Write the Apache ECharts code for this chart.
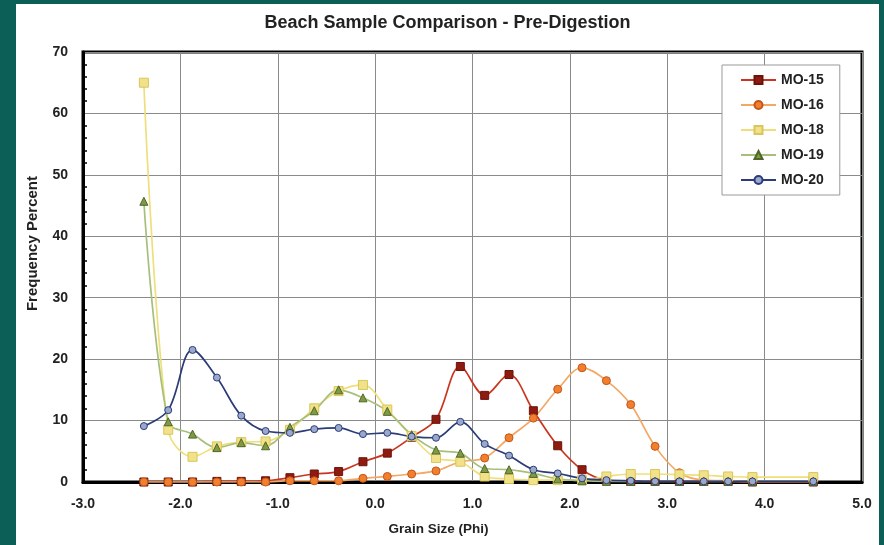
<!DOCTYPE html>
<html>
<head>
<meta charset="utf-8">
<script src="https://cdn.jsdelivr.net/npm/echarts@6/dist/echarts.min.js"></script>
<style>
  html, body { margin: 0; padding: 0; background: #0c5f57; }
  #chart { position: absolute; left: 16px; top: 4px; width: 863px; height: 541px; background: #fff; }
</style>
</head>
<body>
<div id="chart"></div>
<script>
// grain size class midpoints (phi)
var phi = [-2.375, -2.125, -1.875, -1.625, -1.375, -1.125, -0.875, -0.625, -0.375, -0.125,
           0.125, 0.375, 0.625, 0.875, 1.125, 1.375, 1.625, 1.875, 2.125, 2.375,
           2.625, 2.875, 3.125, 3.375, 3.625, 3.875, 4.5];

var mo15 = [0, 0, 0, 0.1, 0.1, 0.2, 0.7, 1.3, 1.7, 3.3, 4.7, 7.3, 10.2, 18.8, 14.1, 17.5, 11.6, 5.9, 2.0, 0.3, 0.1, 0.1, 0.1, 0.1, 0.1, 0, 0];
var mo16 = [0, 0, 0, 0, 0, 0, 0.2, 0.2, 0.2, 0.6, 0.9, 1.3, 1.8, 3.3, 3.9, 7.2, 10.4, 15.1, 18.6, 16.5, 12.6, 5.8, 1.5, 0.3, 0.2, 0.1, 0.1];
var mo18 = [65.0, 8.5, 4.1, 5.8, 6.5, 6.6, 8.5, 12.0, 14.8, 15.8, 11.8, 7.5, 3.9, 3.3, 0.9, 0.5, 0.3, 0.3, 0.3, 0.9, 1.3, 1.3, 1.2, 1.1, 0.9, 0.8, 0.8];
var mo19 = [45.7, 9.8, 7.8, 5.6, 6.4, 5.9, 8.9, 11.6, 15.0, 13.7, 11.5, 7.7, 5.2, 4.7, 2.2, 2.0, 1.4, 0.5, 0.2, 0.1, 0.1, 0.1, 0.1, 0.1, 0.1, 0.1, 0.1];
var mo20 = [9.1, 11.7, 21.5, 17.0, 10.8, 8.3, 8.0, 8.6, 8.8, 7.8, 8.0, 7.4, 7.2, 9.8, 6.2, 4.3, 2.0, 1.4, 0.6, 0.3, 0.2, 0.1, 0.1, 0.1, 0.1, 0.1, 0.1];

function pairs(vals) {
    var out = [];
    for (var i = 0; i < phi.length; i++) {
        out.push([phi[i], vals[i]]);
    }
    return out;
}

function mkSeries(name, vals, line, symbol, fill, border, size) {
    return {
        name: name,
        type: 'line',
        smooth: 0.35,
        data: pairs(vals),
        symbol: symbol,
        symbolSize: size,
        lineStyle: { color: line, width: 1.7 },
        itemStyle: { color: fill, borderColor: border, borderWidth: 1 }
    };
}

var font = '"Liberation Sans", Arial, sans-serif';
var myChart = echarts.init(document.getElementById('chart'));

var option = {
    backgroundColor: '#fff',
    animation: false,
    title: {
        text: 'Beach Sample Comparison - Pre-Digestion',
        left: 'center',
        top: 5,
        textStyle: { fontFamily: font, fontSize: 18, fontWeight: 'bold', color: '#222' }
    },
    legend: {
        orient: 'vertical',
        left: 706,
        top: 61,
        padding: [8, 16, 8, 18],
        itemGap: 11,
        itemWidth: 35,
        itemHeight: 10,
        borderColor: '#999',
        borderWidth: 1,
        backgroundColor: '#fff',
        textStyle: { fontFamily: font, fontSize: 14, fontWeight: 'bold', color: '#222' }
    },
    grid: {
        left: 67,
        right: 17,
        top: 48,
        bottom: 63,
        show: true,
        borderColor: '#000',
        borderWidth: 3
    },
    xAxis: {
        type: 'value',
        min: -3,
        max: 5,
        interval: 1,
        name: 'Grain Size (Phi)',
        nameLocation: 'middle',
        nameGap: 40,
        nameTextStyle: { fontFamily: font, fontSize: 13.5, fontWeight: 'bold', color: '#222', padding: [0, 68, 0, 0] },
        axisLine: { onZero: false, lineStyle: { color: '#000', width: 3 } },
        axisTick: { show: false },
        axisLabel: {
            margin: 15,
            fontFamily: font, fontSize: 14, fontWeight: 'bold', color: '#222',
            formatter: function (v) { return v.toFixed(1); }
        },
        splitLine: { lineStyle: { color: '#8a8a8a', width: 1 } }
    },
    yAxis: {
        type: 'value',
        min: 0,
        max: 70,
        interval: 10,
        axisLine: { show: true, onZero: false, lineStyle: { color: '#000', width: 3 } },
        axisTick: { show: false, inside: true },
        minorTick: { show: true, splitNumber: 5, length: 4, lineStyle: { color: '#000', width: 1.5 } },
        axisLabel: { margin: 15, fontFamily: font, fontSize: 14, fontWeight: 'bold', color: '#222' },
        splitLine: { lineStyle: { color: '#8a8a8a', width: 1 } }
    },
    graphic: [{
        type: 'text',
        left: 9,
        top: 172,
        rotation: Math.PI / 2,
        style: {
            text: 'Frequency Percent',
            fontFamily: font,
            fontSize: 15,
            fontWeight: 'bold',
            fill: '#222'
        }
    }],
    series: [
        mkSeries('MO-15', mo15, '#c9361f', 'rect', '#8e1b10', '#6e130b', 8),
        mkSeries('MO-16', mo16, '#f3a865', 'circle', '#f07f2e', '#c4561a', 8),
        mkSeries('MO-18', mo18, '#efdf7c', 'rect', '#f1e189', '#d9c65c', 9),
        mkSeries('MO-19', mo19, '#a8bf7c', 'triangle', '#7f9a45', '#4f6627', 8),
        mkSeries('MO-20', mo20, '#2b3c78', 'circle', '#9aa8cc', '#2b3c78', 7)
    ]
};

myChart.setOption(option);
</script>
</body>
</html>
